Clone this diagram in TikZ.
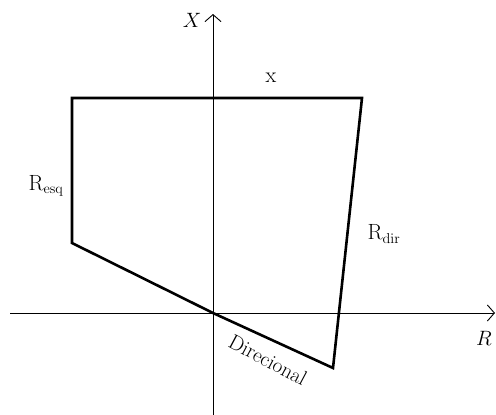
\documentclass[tikz,border=0pt]{standalone}
\usepackage{amsmath}
\usepackage{tikz}
\usetikzlibrary{arrows.meta,positioning,calc}

\begin{document}
\begin{tikzpicture}[
    x=1pt, y=-1pt,
    axis/.style={line width=0.9pt, -{Straight Barb[length=7pt,width=16pt,line width=0.9pt]}},
    zone/.style={line width=2.6pt, line join=miter},
    lbl/.style={font=\fontsize{22}{24}\selectfont, inner sep=1pt}
]
    \useasboundingbox (0,0) rectangle (496,415);

    % axes
    \coordinate (o) at (213,313);
    \coordinate (xlo) at (213,415);
    \coordinate (xhi) at (213,14);
    \coordinate (rlo) at (10,313);
    \coordinate (rhi) at (495,313);
    \draw[axis] (xlo) -- (xhi);
    \draw[axis] (rlo) -- (rhi);

    % characteristic
    \coordinate (tl) at (72,98);
    \coordinate (tr) at (362,98);
    \coordinate (br) at (333,368);
    \coordinate (bl) at (72,243);
    \draw[zone] (tl) -- (tr) -- (br) -- (o) -- (bl) -- cycle;

    \node[lbl] (xlab) at (192,20) {$X$};
    \node[lbl] (rlab) at (484,338) {$R$};
    \node[lbl] (xtop) at (271,78) {x};
    \node[lbl] (resq) at (46,186) {R$_{\mathrm{esq}}$};
    \node[lbl] (rdir) at (384,234) {R$_{\mathrm{dir}}$};
    \node[lbl, font=\fontsize{21}{24}\selectfont, rotate=-28] (dir) at (268,360) {Direcional};
\end{tikzpicture}
\end{document}
